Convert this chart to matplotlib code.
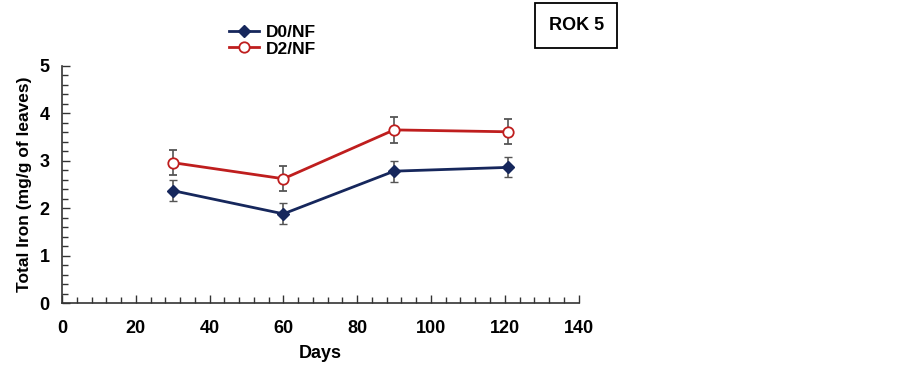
import numpy as np
import matplotlib.pyplot as plt
from matplotlib.ticker import MultipleLocator
from matplotlib.lines import Line2D

plt.rcParams['font.family'] = ['Liberation Sans', 'DejaVu Sans']
plt.rcParams['font.weight'] = 'bold'

days = [30, 60, 90, 121]
d0_nf = [2.37, 1.88, 2.78, 2.86]
d0_err = [0.22, 0.22, 0.22, 0.21]
d2_nf = [2.96, 2.62, 3.65, 3.61]
d2_err = [0.26, 0.26, 0.27, 0.26]

navy = '#16275c'
red = '#bf1e1e'

fig = plt.figure(figsize=(9.03, 3.70), dpi=100)
ax = fig.add_axes([0.0687, 0.181, 0.572, 0.641])

ax.errorbar(days, d0_nf, yerr=d0_err, color=navy, lw=2, marker='D', ms=6,
            mfc=navy, mec=navy, ecolor='#555555', elinewidth=1.2, capsize=3,
            zorder=3)
ax.errorbar(days, d2_nf, yerr=d2_err, color=red, lw=2, marker='o', ms=7.5,
            mfc='white', mec=red, mew=1.3, ecolor='#555555', elinewidth=1.2,
            capsize=3, zorder=3)

ax.set_xlim(0, 140)
ax.set_ylim(0, 5)
ax.xaxis.set_major_locator(MultipleLocator(20))
ax.xaxis.set_minor_locator(MultipleLocator(4))
ax.yaxis.set_major_locator(MultipleLocator(1))
ax.yaxis.set_minor_locator(MultipleLocator(0.2))
ax.tick_params(which='both', direction='in', color='#333333', width=1)
ax.tick_params(which='major', length=6, labelsize=13)
ax.tick_params(axis='x', which='major', pad=12)
ax.tick_params(axis='y', which='major', pad=9)
ax.tick_params(which='minor', length=4)
for s in ['top', 'right']:
    ax.spines[s].set_visible(False)
for s in ['left', 'bottom']:
    ax.spines[s].set_color('#333333')
    ax.spines[s].set_linewidth(1.2)

ax.set_xlabel('Days', fontsize=13, fontweight='bold', labelpad=6)
ax.set_ylabel('Total Iron (mg/g of leaves)', fontsize=12.5, fontweight='bold', labelpad=5)

handles = [Line2D([], [], color=navy, lw=2, marker='D', ms=6, mfc=navy, mec=navy),
           Line2D([], [], color=red, lw=2, marker='o', ms=7.5, mfc='white', mec=red, mew=1.3)]
fig.legend(handles, ['D0/NF', 'D2/NF'], loc='upper left', bbox_to_anchor=(0.244, 0.955),
           frameon=False, fontsize=12.5, handlelength=1.75, handletextpad=0.4,
           labelspacing=0.05, borderpad=0)

fig.text(0.638, 0.931, 'ROK 5', fontsize=13, fontweight='bold', ha='center', va='center',
         bbox=dict(boxstyle='square,pad=0.75', fc='white', ec='black', lw=1.3))

plt.savefig('out.png', dpi=100)
